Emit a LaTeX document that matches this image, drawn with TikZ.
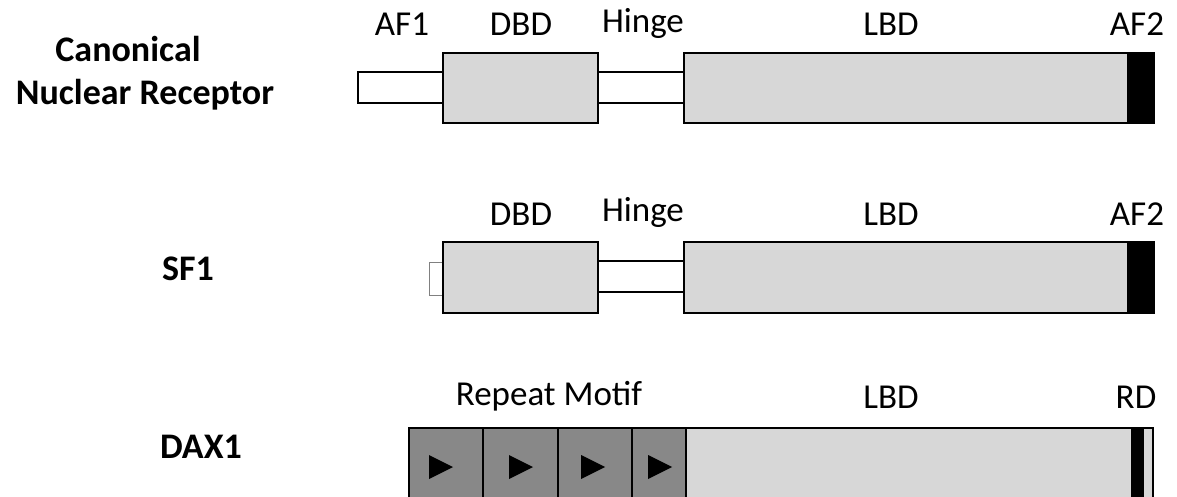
\documentclass[tikz,border=0pt]{standalone}
\usepackage{fontspec}
\setmainfont{Carlito}
\definecolor{lgray}{HTML}{D7D7D7}
\definecolor{dgray}{HTML}{888888}
\begin{document}
\begin{tikzpicture}[x=1pt,y=-1pt,
  nrseg/.style={draw=black, line width=2pt, inner sep=0pt, outer sep=0pt, anchor=north west},
  nrlinker/.style={nrseg, fill=white},
  nrdomain/.style={nrseg, fill=lgray},
  nrdark/.style={nrseg, fill=black},
  nrmotif/.style={nrseg, fill=dgray},
  nrstub/.style={draw=gray, line width=1pt, fill=white, inner sep=0pt, outer sep=0pt, anchor=north west},
  nrlab/.style={anchor=base, inner sep=0pt, font=\fontsize{35}{42}\selectfont},
  nrrowname/.style={anchor=base, inner sep=0pt, font=\fontsize{36}{43}\selectfont\bfseries}]
\useasboundingbox (0,0) rectangle (1177,497);
\clip (0,0) rectangle (1177,497);
% Row 1
\node[nrlinker, minimum width=85pt, minimum height=31pt] (af1) at (358,72) {};
\node[nrlinker, minimum width=86pt, minimum height=31pt] (hinge1) at (598,72) {};
\node[nrdomain, minimum width=155pt, minimum height=70pt] (dbd1) at (443,53) {};
\node[nrdomain, minimum width=470pt, minimum height=70pt] (lbd1) at (684,53) {};
\node[nrdark, minimum width=26pt, minimum height=70pt] (af21) at (1128,53) {};
% Row 2
\node[nrstub, minimum width=14pt, minimum height=33pt] (af1b) at (429,262) {};
\node[nrlinker, minimum width=86pt, minimum height=31pt] (hinge2) at (598,261) {};
\node[nrdomain, minimum width=155pt, minimum height=71pt] (dbd2) at (443,242) {};
\node[nrdomain, minimum width=470pt, minimum height=71pt] (lbd2) at (684,242) {};
\node[nrdark, minimum width=26pt, minimum height=71pt] (af22) at (1128,242) {};
% Row 3
\node[nrdomain, minimum width=467pt, minimum height=90pt] (lbd3) at (686,428) {};
\node[nrdark, minimum width=11pt, minimum height=90pt] (rd) at (1132,428) {};
\node[nrmotif, minimum width=74pt, minimum height=90pt] (rep1) at (409,428) {};
\node[nrmotif, minimum width=75pt, minimum height=90pt] (rep2) at (483,428) {};
\node[nrmotif, minimum width=74pt, minimum height=90pt] (rep3) at (558,428) {};
\node[nrmotif, minimum width=54pt, minimum height=90pt] (rep4) at (632,428) {};
\foreach \x in {429,509,581,648}
  \fill[black] (\x,455) -- (\x,479) -- (\x+24,467) -- cycle;
% Labels
\node[nrlab] (t1) at (402,36) {AF1};
\node[nrlab] (t2) at (521,36) {DBD};
\node[nrlab] (t3) at (643,33) {Hinge};
\node[nrlab] (t4) at (891,36) {LBD};
\node[nrlab] (t5) at (1137,36) {AF2};
\node[nrlab] (t6) at (521,225) {DBD};
\node[nrlab] (t7) at (643,222) {Hinge};
\node[nrlab] (t8) at (891,225) {LBD};
\node[nrlab] (t9) at (1137,225) {AF2};
\node[nrlab] (t10) at (549,405) {Repeat Motif};
\node[nrlab] (t11) at (891,408) {LBD};
\node[nrlab] (t12) at (1136,408) {RD};
\node[nrrowname] (n1) at (128,62) {Canonical};
\node[nrrowname] (n2) at (145,105) {Nuclear Receptor};
\node[nrrowname] (n3) at (188,280) {SF1};
\node[nrrowname] (n4) at (201,458) {DAX1};
\end{tikzpicture}
\end{document}
